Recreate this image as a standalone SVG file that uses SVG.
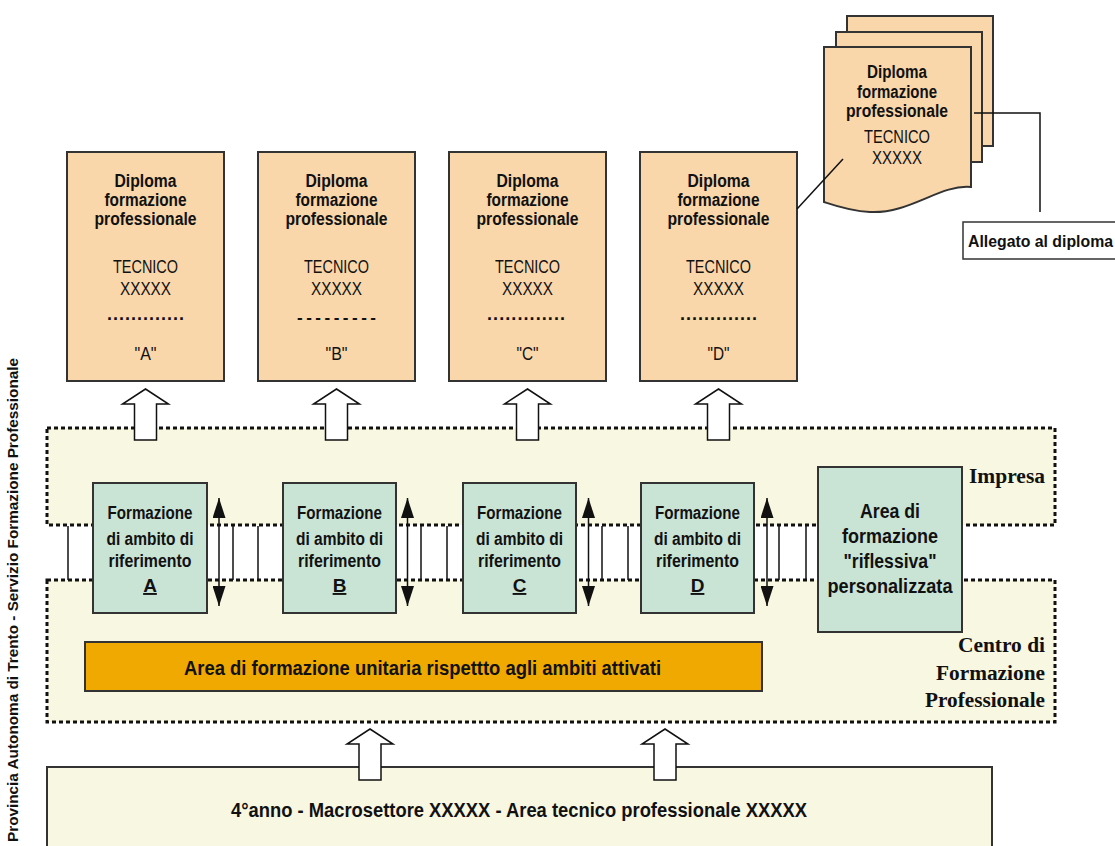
<svg xmlns="http://www.w3.org/2000/svg" xmlns:xlink="http://www.w3.org/1999/xlink" width="1115" height="846" viewBox="0 0 1115 846">
<style>
.t{font-family:'Liberation Sans Narrow','Liberation Sans',Arial,sans-serif;fill:#111;text-anchor:middle}
.b{font-weight:bold}
.tm{font-family:'Liberation Serif','Times New Roman',serif;font-weight:bold;font-size:20px;fill:#111;text-anchor:end}
.dip{fill:#f9d7aa;stroke:#333;stroke-width:2}
.grn{fill:#c9e4d5;stroke:#333;stroke-width:2}
.band{fill:#f8f7e1;stroke:#111;stroke-width:3;stroke-dasharray:4 3}
.vl{stroke:#111;stroke-width:1.5}
.ln{stroke:#111;stroke-width:1.5;fill:none}
.blk{fill:#fff;stroke:#111;stroke-width:1.5}
.dbl{stroke:#111;stroke-width:1.5;marker-start:url(#ah);marker-end:url(#ah)}
</style>
<defs>
<marker id="ah" viewBox="0 0 20 13" refX="20" refY="6.5" markerWidth="20" markerHeight="13" markerUnits="userSpaceOnUse" orient="auto-start-reverse">
<path d="M0,0 L20,6.5 L0,13 Z" fill="#111"/>
</marker>
<path id="up" d="M0,0 L23,15 L11,15 L11,51 L-11,51 L-11,15 L-23,15 Z"/>
</defs>
<rect width="1115" height="846" fill="#fff"/>

<g id="vertical-title">
<text class="t b" font-size="14" transform="translate(18,358) rotate(-90)" textLength="484" lengthAdjust="spacingAndGlyphs" style="text-anchor:end">Provincia Autonoma di Trento - Servizio Formazione Professionale</text>
</g>

<g id="impresa-band">
<rect class="band" x="47" y="428" width="1008" height="97"/>
<text class="tm" x="1045" y="483" textLength="76" lengthAdjust="spacingAndGlyphs">Impresa</text>
</g>
<g id="cfp-band">
<rect class="band" x="47" y="580" width="1008" height="142"/>
<text class="tm" x="1045" y="652" textLength="87" lengthAdjust="spacingAndGlyphs">Centro di</text>
<text class="tm" x="1045" y="680" textLength="109" lengthAdjust="spacingAndGlyphs">Formazione</text>
<text class="tm" x="1045" y="707" textLength="120" lengthAdjust="spacingAndGlyphs">Professionale</text>
</g>

<g id="bridge-lines">
<line class="vl" x1="68" y1="526" x2="68" y2="580"/>
<line class="vl" x1="233" y1="526" x2="233" y2="580"/>
<line class="vl" x1="258" y1="526" x2="258" y2="580"/>
<line class="vl" x1="421" y1="526" x2="421" y2="580"/>
<line class="vl" x1="447" y1="526" x2="447" y2="580"/>
<line class="vl" x1="602" y1="526" x2="602" y2="580"/>
<line class="vl" x1="628" y1="526" x2="628" y2="580"/>
<line class="vl" x1="779" y1="526" x2="779" y2="580"/>
<line class="vl" x1="806" y1="526" x2="806" y2="580"/>
</g>

<g id="ambito-A">
<rect class="grn" x="93" y="483" width="114" height="130"/>
<text class="t b" x="150" y="519" font-size="18" textLength="85" lengthAdjust="spacingAndGlyphs">Formazione</text>
<text class="t b" x="150" y="545" font-size="18" textLength="87" lengthAdjust="spacingAndGlyphs">di ambito di</text>
<text class="t b" x="150" y="567" font-size="18" textLength="83" lengthAdjust="spacingAndGlyphs">riferimento</text>
<text class="t b" x="150" y="592" font-size="19" text-decoration="underline">A</text>
</g>
<g id="ambito-B">
<rect class="grn" x="283" y="483" width="113" height="130"/>
<text class="t b" x="339.5" y="519" font-size="18" textLength="85" lengthAdjust="spacingAndGlyphs">Formazione</text>
<text class="t b" x="339.5" y="545" font-size="18" textLength="87" lengthAdjust="spacingAndGlyphs">di ambito di</text>
<text class="t b" x="339.5" y="567" font-size="18" textLength="83" lengthAdjust="spacingAndGlyphs">riferimento</text>
<text class="t b" x="339.5" y="592" font-size="19" text-decoration="underline">B</text>
</g>
<g id="ambito-C">
<rect class="grn" x="463" y="483" width="113" height="130"/>
<text class="t b" x="519.5" y="519" font-size="18" textLength="85" lengthAdjust="spacingAndGlyphs">Formazione</text>
<text class="t b" x="519.5" y="545" font-size="18" textLength="87" lengthAdjust="spacingAndGlyphs">di ambito di</text>
<text class="t b" x="519.5" y="567" font-size="18" textLength="83" lengthAdjust="spacingAndGlyphs">riferimento</text>
<text class="t b" x="519.5" y="592" font-size="19" text-decoration="underline">C</text>
</g>
<g id="ambito-D">
<rect class="grn" x="641" y="483" width="113" height="130"/>
<text class="t b" x="697.5" y="519" font-size="18" textLength="85" lengthAdjust="spacingAndGlyphs">Formazione</text>
<text class="t b" x="697.5" y="545" font-size="18" textLength="87" lengthAdjust="spacingAndGlyphs">di ambito di</text>
<text class="t b" x="697.5" y="567" font-size="18" textLength="83" lengthAdjust="spacingAndGlyphs">riferimento</text>
<text class="t b" x="697.5" y="592" font-size="19" text-decoration="underline">D</text>
</g>
<g id="area-riflessiva">
<rect class="grn" x="818" y="467" width="144" height="165"/>
<text class="t b" x="890" y="518" font-size="20" textLength="60" lengthAdjust="spacingAndGlyphs">Area di</text>
<text class="t b" x="890" y="543" font-size="20" textLength="96" lengthAdjust="spacingAndGlyphs">formazione</text>
<text class="t b" x="890" y="568" font-size="20" textLength="93" lengthAdjust="spacingAndGlyphs">"riflessiva"</text>
<text class="t b" x="890" y="593" font-size="20" textLength="125" lengthAdjust="spacingAndGlyphs">personalizzata</text>
</g>

<g id="area-unitaria">
<rect x="85" y="642" width="677" height="49" fill="#f0a900" stroke="#333" stroke-width="2"/>
<text class="t b" x="422.5" y="675" font-size="20" textLength="477" lengthAdjust="spacingAndGlyphs">Area di formazione unitaria rispettto agli ambiti attivati</text>
</g>

<g id="quarto-anno">
<rect x="47" y="767" width="945" height="100" fill="#f8f7e1" stroke="#333" stroke-width="2"/>
<text class="t b" x="519" y="817" font-size="20" textLength="576" lengthAdjust="spacingAndGlyphs">4°anno - Macrosettore XXXXX - Area tecnico professionale XXXXX</text>
</g>

<g id="diploma-A">
<rect class="dip" x="67" y="152" width="157" height="229"/>
<text class="t b" x="145.5" y="187" font-size="18" textLength="62" lengthAdjust="spacingAndGlyphs">Diploma</text>
<text class="t b" x="145.5" y="206" font-size="18" textLength="82" lengthAdjust="spacingAndGlyphs">formazione</text>
<text class="t b" x="145.5" y="225" font-size="18" textLength="102" lengthAdjust="spacingAndGlyphs">professionale</text>
<text class="t" x="145.5" y="273" font-size="19" textLength="65" lengthAdjust="spacingAndGlyphs">TECNICO</text>
<text class="t" x="145.5" y="295" font-size="19" textLength="51" lengthAdjust="spacingAndGlyphs">XXXXX</text>
<text class="t b" x="145.5" y="320" font-size="18" textLength="77" lengthAdjust="spacing">.............</text>
<text class="t" x="145.5" y="360" font-size="18" textLength="22" lengthAdjust="spacingAndGlyphs">"A"</text>
</g>
<g id="diploma-B">
<rect class="dip" x="258" y="152" width="157" height="229"/>
<text class="t b" x="336.5" y="187" font-size="18" textLength="62" lengthAdjust="spacingAndGlyphs">Diploma</text>
<text class="t b" x="336.5" y="206" font-size="18" textLength="82" lengthAdjust="spacingAndGlyphs">formazione</text>
<text class="t b" x="336.5" y="225" font-size="18" textLength="102" lengthAdjust="spacingAndGlyphs">professionale</text>
<text class="t" x="336.5" y="273" font-size="19" textLength="65" lengthAdjust="spacingAndGlyphs">TECNICO</text>
<text class="t" x="336.5" y="295" font-size="19" textLength="51" lengthAdjust="spacingAndGlyphs">XXXXX</text>
<text class="t b" x="336.5" y="323" font-size="17" textLength="79" lengthAdjust="spacing">---------</text>
<text class="t" x="336.5" y="360" font-size="18" textLength="22" lengthAdjust="spacingAndGlyphs">"B"</text>
</g>
<g id="diploma-C">
<rect class="dip" x="449" y="152" width="157" height="229"/>
<text class="t b" x="527.5" y="187" font-size="18" textLength="62" lengthAdjust="spacingAndGlyphs">Diploma</text>
<text class="t b" x="527.5" y="206" font-size="18" textLength="82" lengthAdjust="spacingAndGlyphs">formazione</text>
<text class="t b" x="527.5" y="225" font-size="18" textLength="102" lengthAdjust="spacingAndGlyphs">professionale</text>
<text class="t" x="527.5" y="273" font-size="19" textLength="65" lengthAdjust="spacingAndGlyphs">TECNICO</text>
<text class="t" x="527.5" y="295" font-size="19" textLength="51" lengthAdjust="spacingAndGlyphs">XXXXX</text>
<text class="t b" x="526" y="320" font-size="18" textLength="78" lengthAdjust="spacing">.............</text>
<text class="t" x="527.5" y="360" font-size="18" textLength="22" lengthAdjust="spacingAndGlyphs">"C"</text>
</g>
<g id="diploma-D">
<rect class="dip" x="640" y="152" width="157" height="229"/>
<text class="t b" x="718.5" y="187" font-size="18" textLength="62" lengthAdjust="spacingAndGlyphs">Diploma</text>
<text class="t b" x="718.5" y="206" font-size="18" textLength="82" lengthAdjust="spacingAndGlyphs">formazione</text>
<text class="t b" x="718.5" y="225" font-size="18" textLength="102" lengthAdjust="spacingAndGlyphs">professionale</text>
<text class="t" x="718.5" y="273" font-size="19" textLength="65" lengthAdjust="spacingAndGlyphs">TECNICO</text>
<text class="t" x="718.5" y="295" font-size="19" textLength="51" lengthAdjust="spacingAndGlyphs">XXXXX</text>
<text class="t b" x="718.5" y="320" font-size="18" textLength="77" lengthAdjust="spacing">.............</text>
<text class="t" x="718.5" y="360" font-size="18" textLength="22" lengthAdjust="spacingAndGlyphs">"D"</text>
</g>

<g id="diploma-stack">
<rect class="dip" x="847" y="16" width="146" height="130"/>
<rect class="dip" x="836" y="32" width="146" height="130"/>
<path class="dip" d="M824,47 H971 V187 C940,184 910,214 870,212 C850,211 836,206 824,202 Z"/>
<text class="t b" x="897" y="78" font-size="18" textLength="60" lengthAdjust="spacingAndGlyphs">Diploma</text>
<text class="t b" x="897" y="97.5" font-size="18" textLength="80" lengthAdjust="spacingAndGlyphs">formazione</text>
<text class="t b" x="897" y="117" font-size="18" textLength="102" lengthAdjust="spacingAndGlyphs">professionale</text>
<text class="t" x="897" y="143" font-size="19" textLength="66" lengthAdjust="spacingAndGlyphs">TECNICO</text>
<text class="t" x="897" y="164" font-size="19" textLength="50" lengthAdjust="spacingAndGlyphs">XXXXX</text>
</g>

<g id="allegato">
<rect x="963" y="222" width="160" height="37" fill="#fff" stroke="#333" stroke-width="1.5"/>
<text class="t b" x="968" y="247" font-size="16" textLength="145" lengthAdjust="spacingAndGlyphs" style="text-anchor:start">Allegato al diploma</text>
</g>

<g id="connectors">
<use xlink:href="#up" href="#up" class="blk" x="145.5" y="389"/>
<use xlink:href="#up" href="#up" class="blk" x="336.5" y="389"/>
<use xlink:href="#up" href="#up" class="blk" x="527.5" y="389"/>
<use xlink:href="#up" href="#up" class="blk" x="718.5" y="389"/>
<use xlink:href="#up" href="#up" class="blk" x="370" y="729"/>
<use xlink:href="#up" href="#up" class="blk" x="665" y="729"/>
<line class="dbl" x1="219" y1="606" x2="219" y2="498"/>
<line class="dbl" x1="407.5" y1="606" x2="407.5" y2="498"/>
<line class="dbl" x1="588.5" y1="606" x2="588.5" y2="498"/>
<line class="dbl" x1="767" y1="606" x2="767" y2="498"/>
<line class="ln" x1="797" y1="209" x2="843" y2="159"/>
<polyline class="ln" points="974,113 1040,113 1040,212"/>
</g>
</svg>
